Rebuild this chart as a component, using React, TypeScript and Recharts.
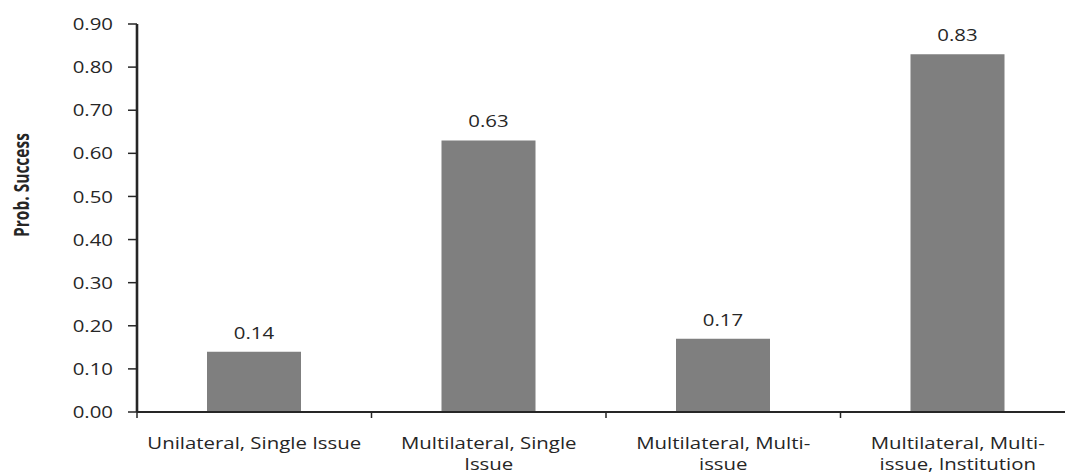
import React from "react";
import { Bar, BarChart, LabelList, Label, XAxis, YAxis } from "recharts";

const categories = [
  "Unilateral, Single Issue",
  "Multilateral, Single\nIssue",
  "Multilateral, Multi-\nissue",
  "Multilateral, Multi-\nissue, Institution",
];
const probSuccess = [0.14, 0.63, 0.17, 0.83];
const yTicks = [0, 0.1, 0.2, 0.3, 0.4, 0.5, 0.6, 0.7, 0.8, 0.9];

const data = categories.map((name, i) => ({ name, value: probSuccess[i] }));

const CHART_W = 1075;
const CHART_H = 474;
const Y_AXIS_W = 137;
const TEXT = "#262626";
const FONT = "'Open Sans', 'DejaVu Sans', sans-serif";
const STRETCH = 1.2;

const bandWidth = (CHART_W - Y_AXIS_W) / categories.length;

function YTick({ x, y, payload }: any) {
  return (
    <g transform={`translate(${x},${y})`}>
      <text
        transform={`scale(${STRETCH},1)`}
        textAnchor="end"
        dy="0.36em"
        fontFamily={FONT}
        fontSize={17}
        fill={TEXT}
      >
        {Number(payload.value).toFixed(2)}
      </text>
    </g>
  );
}

function XTick({ x, y, payload }: any) {
  const lines = String(payload.value).split("\n");
  const left = x - bandWidth / 2;
  return (
    <g>
      <line x1={left} x2={left} y1={y} y2={y + 6} stroke={TEXT} strokeWidth={1.5} />
      <g transform={`translate(${x},${y})`}>
        {lines.map((line, i) => (
          <text
            key={i}
            transform={`scale(${STRETCH},1)`}
            y={37 + i * 21}
            textAnchor="middle"
            fontFamily={FONT}
            fontSize={17}
            fill={TEXT}
          >
            {line}
          </text>
        ))}
      </g>
    </g>
  );
}

function ValueLabel(props: any) {
  const { x, y, width, value } = props;
  return (
    <g transform={`translate(${x + width / 2},${y - 13})`}>
      <text
        transform={`scale(${STRETCH},1)`}
        textAnchor="middle"
        fontFamily={FONT}
        fontSize={17}
        fill={TEXT}
      >
        {Number(value).toFixed(2)}
      </text>
    </g>
  );
}

function YTitle({ viewBox }: any) {
  const cx = viewBox.x + 21;
  const cy = viewBox.y + viewBox.height * 0.415;
  return (
    <g transform={`translate(${cx},${cy}) rotate(-90) scale(1,1.4)`}>
      <text
        textAnchor="middle"
        dy="0.36em"
        fontFamily="'Liberation Sans Narrow', 'Open Sans', sans-serif"
        fontWeight="bold"
        fontSize={15.5}
        fill={TEXT}
      >
        Prob. Success
      </text>
    </g>
  );
}

export default function App() {
  return (
    <div
      style={{
        position: "absolute",
        left: 0,
        top: 0,
        width: 1065,
        height: 474,
        overflow: "hidden",
        background: "#fff",
      }}
    >
      <BarChart
        width={CHART_W}
        height={CHART_H}
        data={data}
        margin={{ top: 24, right: 0, left: 0, bottom: 0 }}
      >
        <XAxis
          dataKey="name"
          height={62}
          interval={0}
          tickLine={false}
          tickSize={0}
          tickMargin={0}
          axisLine={{ stroke: TEXT, strokeWidth: 1.8 }}
          tick={<XTick />}
        />
        <YAxis
          width={Y_AXIS_W}
          domain={[0, 0.9]}
          ticks={yTicks}
          interval={0}
          tickSize={9}
          tickMargin={15}
          axisLine={{ stroke: TEXT, strokeWidth: 2.6 }}
          tickLine={{ stroke: TEXT, strokeWidth: 1.5 }}
          tick={<YTick />}
        >
          <Label content={<YTitle />} />
        </YAxis>
        <Bar dataKey="value" fill="#7f7f7f" barSize={94} isAnimationActive={false}>
          <LabelList dataKey="value" content={<ValueLabel />} />
        </Bar>
      </BarChart>
    </div>
  );
}
